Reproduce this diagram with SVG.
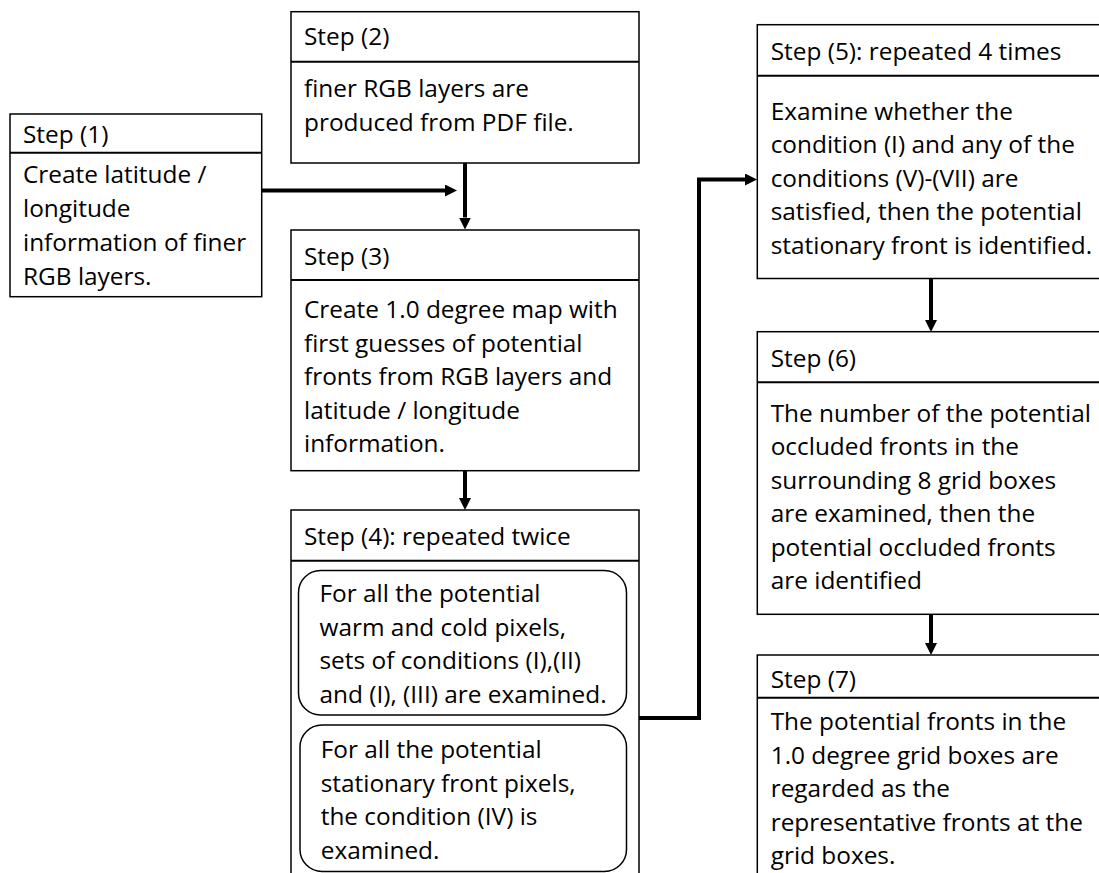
<svg xmlns="http://www.w3.org/2000/svg" width="1099" height="873" viewBox="0 0 1099 873">
<style>
.box{fill:#fff;stroke:#000;stroke-width:1.5}
.div{stroke:#000;stroke-width:2}
.inner{fill:#fff;stroke:#000;stroke-width:1.5}
text{font-family:"Open Sans","Noto Sans",sans-serif;font-size:24.4px;fill:#000}
.conn{fill:none;stroke:#000;stroke-width:4}
</style>
<defs>
<marker id="ah" markerUnits="userSpaceOnUse" markerWidth="12" markerHeight="12" refX="0" refY="6" orient="auto">
<path d="M0,0 L12,6 L0,12 z" fill="#000"/>
</marker>
</defs>
<rect width="1099" height="873" fill="#fff"/>
<g id="step1">
<rect class="box" x="10" y="114" width="251.7" height="182.7"/>
<line class="div" x1="10" y1="152.7" x2="261.7" y2="152.7"/>
<text x="23" y="143">Step (1)</text>
<text x="23" y="183">Create latitude /</text>
<text x="23" y="217">longitude</text>
<text x="23" y="251">information of finer</text>
<text x="23" y="285">RGB layers.</text>
</g>
<g id="step2">
<rect class="box" x="291" y="11.7" width="348" height="151.3"/>
<line class="div" x1="291" y1="61.7" x2="639" y2="61.7"/>
<text x="304" y="45">Step (2)</text>
<text x="304" y="97">finer RGB layers are</text>
<text x="304" y="131">produced from PDF file.</text>
</g>
<g id="step3">
<rect class="box" x="291" y="230" width="348" height="240.7"/>
<line class="div" x1="291" y1="280" x2="639" y2="280"/>
<text x="304" y="265">Step (3)</text>
<text x="304" y="318">Create 1.0 degree map with</text>
<text x="304" y="351.5">first guesses of potential</text>
<text x="304" y="385">fronts from RGB layers and</text>
<text x="304" y="418.5">latitude / longitude</text>
<text x="304" y="452">information.</text>
</g>
<g id="step4">
<rect class="box" x="291" y="510" width="348" height="380"/>
<line class="div" x1="291" y1="560.7" x2="639" y2="560.7"/>
<text x="304" y="545">Step (4): repeated twice</text>
<rect class="inner" x="298.5" y="570.5" width="328" height="144.5" rx="22" ry="22"/>
<text x="319.5" y="602">For all the potential</text>
<text x="319.5" y="635.5">warm and cold pixels,</text>
<text x="319.5" y="669">sets of conditions (I),(II)</text>
<text x="319.5" y="703">and (I), (III) are examined.</text>
<rect class="inner" x="300" y="725" width="326.5" height="146.5" rx="22" ry="22"/>
<text x="320.7" y="758">For all the potential</text>
<text x="320.7" y="791.5">stationary front pixels,</text>
<text x="320.7" y="825">the condition (IV) is</text>
<text x="320.7" y="858.5">examined.</text>
</g>
<g id="step5">
<rect class="box" x="757.3" y="24.7" width="350" height="253.8"/>
<line class="div" x1="757.3" y1="75.7" x2="1107" y2="75.7"/>
<text x="770.7" y="60">Step (5): repeated 4 times</text>
<text x="770.7" y="119.5">Examine whether the</text>
<text x="770.7" y="153">condition (I) and any of the</text>
<text x="770.7" y="186.5">conditions (V)-(VII) are</text>
<text x="770.7" y="220">satisfied, then the potential</text>
<text x="770.7" y="253.5">stationary front is identified.</text>
</g>
<g id="step6">
<rect class="box" x="757.3" y="331.7" width="350" height="282.6"/>
<line class="div" x1="757.3" y1="382.3" x2="1107" y2="382.3"/>
<text x="770.7" y="366.7">Step (6)</text>
<text x="770.7" y="421.7">The number of the potential</text>
<text x="770.7" y="455.2">occluded fronts in the</text>
<text x="770.7" y="488.7">surrounding 8 grid boxes</text>
<text x="770.7" y="522.2">are examined, then the</text>
<text x="770.7" y="555.7">potential occluded fronts</text>
<text x="770.7" y="589.2">are identified</text>
</g>
<g id="step7">
<rect class="box" x="757.3" y="655" width="350" height="240"/>
<line class="div" x1="757.3" y1="697.7" x2="1107" y2="697.7"/>
<text x="770.7" y="688.3">Step (7)</text>
<text x="770.7" y="730">The potential fronts in the</text>
<text x="770.7" y="763.5">1.0 degree grid boxes are</text>
<text x="770.7" y="797">regarded as the</text>
<text x="770.7" y="830.5">representative fronts at the</text>
<text x="770.7" y="864">grid boxes.</text>
</g>
<g id="connectors">
<line class="conn" x1="262" y1="190.5" x2="445" y2="190.5" marker-end="url(#ah)"/>
<line class="conn" x1="465" y1="163" x2="465" y2="217.5" marker-end="url(#ah)"/>
<line class="conn" x1="465" y1="471" x2="465" y2="498" marker-end="url(#ah)"/>
<path class="conn" d="M639,718 H699 V179.5 H745" marker-end="url(#ah)"/>
<line class="conn" x1="931" y1="279" x2="931" y2="320" marker-end="url(#ah)"/>
<line class="conn" x1="931" y1="614.5" x2="931" y2="643" marker-end="url(#ah)"/>
</g>
</svg>
